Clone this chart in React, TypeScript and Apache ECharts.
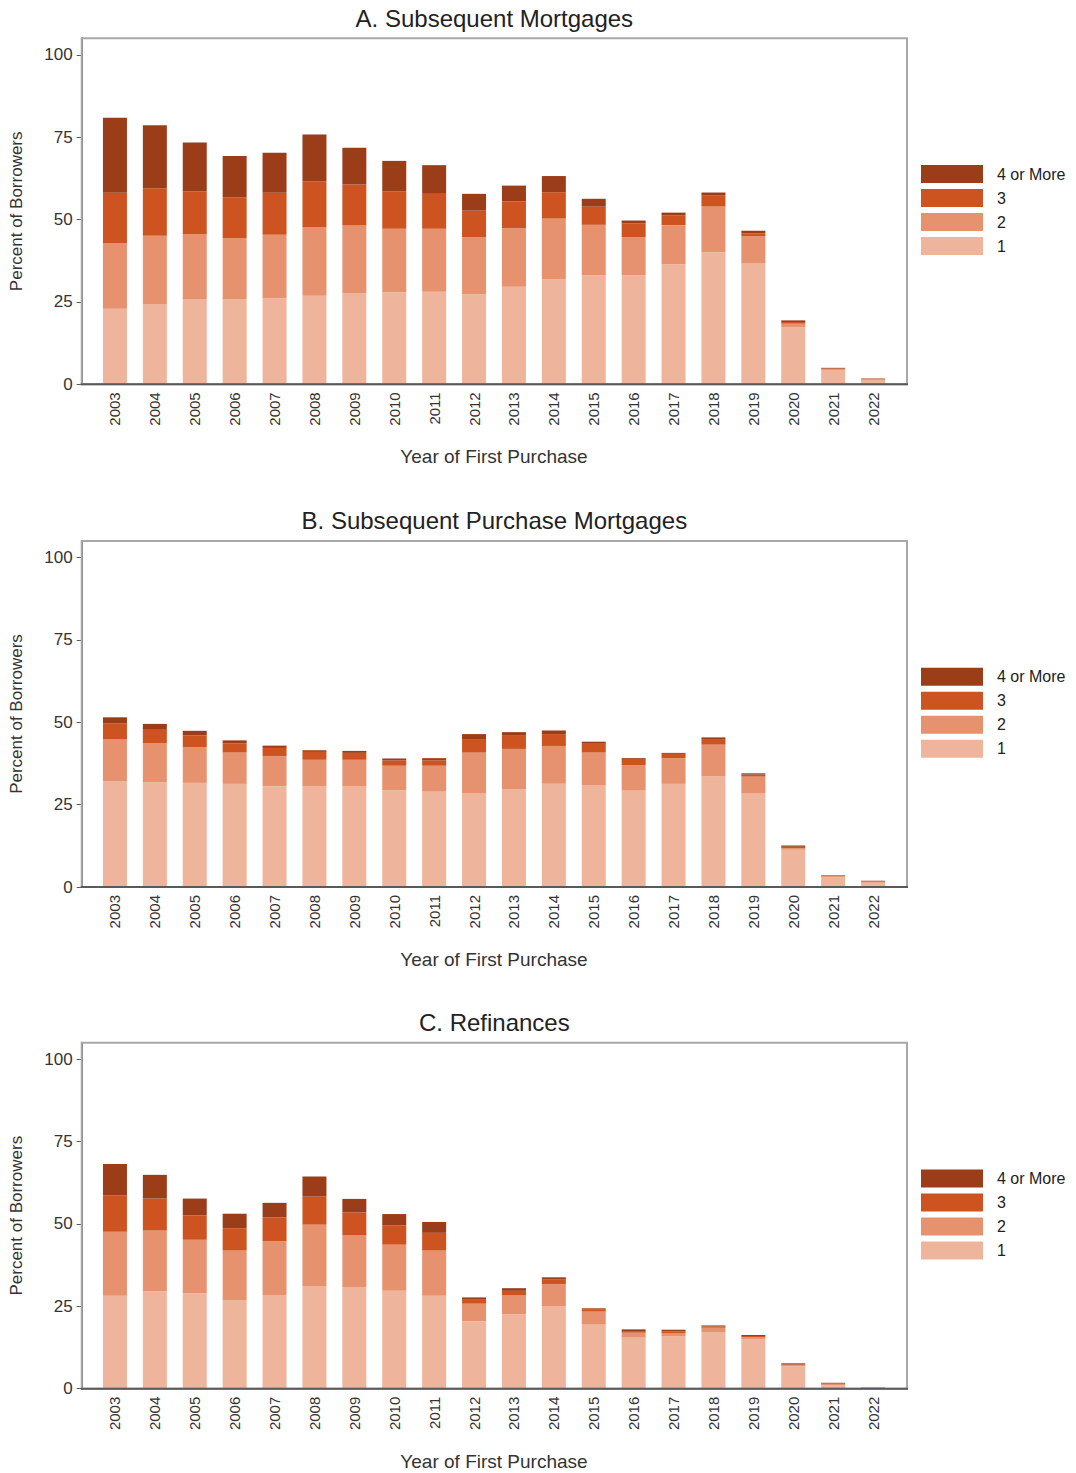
import React, { useEffect, useRef } from "react";
import * as echarts from "echarts";

const years = [
  "2003", "2004", "2005", "2006", "2007", "2008", "2009", "2010", "2011", "2012",
  "2013", "2014", "2015", "2016", "2017", "2018", "2019", "2020", "2021", "2022",
];
const seriesNames = ["1", "2", "3", "4 or More"];
const legendOrder = ["4 or More", "3", "2", "1"];
const segColors = ["#EEB59C", "#E6926E", "#CD5420", "#9C3D1A"];
const yTicks = [0, 25, 50, 75, 100];

const titles = ["A. Subsequent Mortgages", "B. Subsequent Purchase Mortgages", "C. Refinances"];

// A. Subsequent Mortgages
const subsequent1 = [22.9, 24.4, 25.9, 25.7, 26.1, 26.9, 27.7, 27.9, 28.1, 27.3, 29.6, 31.8, 33.1, 33.1, 36.4, 40.1, 36.7, 17.3, 4.2, 1.3];
const subsequent2 = [20.0, 20.7, 19.7, 18.7, 19.3, 20.8, 20.5, 19.3, 19.1, 17.4, 17.7, 18.5, 15.3, 11.6, 11.9, 13.9, 8.2, 1.1, 0.4, 0.25];
const subsequent3 = [15.2, 14.4, 12.9, 12.4, 12.7, 13.9, 12.4, 11.3, 10.6, 8.0, 8.2, 8.0, 5.5, 4.1, 2.9, 3.4, 0.9, 0.5, 0.2, 0.15];
const subsequent4 = [22.8, 19.1, 14.9, 12.5, 12.2, 14.2, 11.2, 9.3, 8.7, 5.1, 4.8, 4.9, 2.4, 0.9, 0.9, 0.8, 0.8, 0.5, 0.2, 0.1];

// B. Subsequent Purchase Mortgages
const purchase1 = [32.0, 31.8, 31.6, 31.3, 30.6, 30.5, 30.5, 29.3, 29.1, 28.5, 29.6, 31.3, 30.8, 29.4, 31.3, 33.6, 28.5, 11.3, 3.0, 1.3];
const purchase2 = [12.9, 11.9, 10.8, 9.5, 9.1, 8.1, 8.1, 7.5, 7.7, 12.3, 12.3, 11.5, 10.0, 7.5, 7.8, 9.6, 5.0, 0.5, 0.3, 0.3];
const purchase3 = [4.8, 4.0, 3.6, 2.8, 2.5, 2.4, 2.1, 1.6, 1.6, 4.1, 4.0, 3.6, 2.9, 1.7, 1.3, 1.7, 0.6, 0.4, 0.2, 0.2];
const purchase4 = [1.8, 1.8, 1.4, 0.9, 0.7, 0.5, 0.6, 0.6, 0.7, 1.5, 1.1, 1.1, 0.4, 0.5, 0.3, 0.5, 0.4, 0.4, 0.1, 0.1];

// C. Refinances
const refi1 = [28.2, 29.6, 29.0, 26.8, 28.4, 31.2, 30.9, 29.7, 28.2, 20.5, 22.6, 25.1, 19.6, 15.5, 15.9, 17.1, 15.1, 6.8, 1.0, 0.3];
const refi2 = [19.4, 18.4, 16.2, 15.1, 16.3, 18.6, 15.6, 14.0, 13.7, 5.3, 5.7, 6.6, 3.8, 1.5, 1.0, 1.4, 0.5, 0.3, 0.3, 0.1];
const refi3 = [11.1, 9.7, 7.4, 6.8, 7.3, 8.5, 7.0, 5.9, 5.4, 1.2, 1.4, 1.4, 0.6, 0.5, 0.5, 0.4, 0.4, 0.3, 0.3, 0.05];
const refi4 = [9.5, 7.2, 5.1, 4.4, 4.4, 6.1, 4.1, 3.4, 3.3, 0.7, 0.8, 0.7, 0.4, 0.5, 0.5, 0.3, 0.3, 0.3, 0.2, 0.05];

const panelData = [
  [subsequent1, subsequent2, subsequent3, subsequent4],
  [purchase1, purchase2, purchase3, purchase4],
  [refi1, refi2, refi3, refi4],
];

// layout
const FONT = "'Liberation Sans', Arial, Helvetica, sans-serif";
const PANEL_TOPS = [38.3, 541, 1042.7];
const PLOT_H = 346;
const FRAME_LEFT = 81.7;
const FRAME_RIGHT = 907;
const GRID_LEFT = 95;
const GRID_RIGHT = 893;

export default function App() {
  const ref = useRef<HTMLDivElement>(null);

  useEffect(() => {
    if (!ref.current) return;
    const chart = echarts.init(ref.current, null, { renderer: "svg" });

    const grids: any[] = [];
    const xAxes: any[] = [];
    const yAxes: any[] = [];
    const legends: any[] = [];
    const series: any[] = [];
    const graphics: any[] = [];

    PANEL_TOPS.forEach((top, p) => {
      grids.push({
        left: GRID_LEFT,
        top,
        width: GRID_RIGHT - GRID_LEFT,
        height: PLOT_H,
        outerBoundsMode: "none",
        containLabel: false,
      });
      xAxes.push({
        type: "category",
        gridIndex: p,
        data: years,
        boundaryGap: true,
        axisLine: { show: false },
        axisTick: { show: false },
        axisLabel: {
          rotate: 90,
          interval: 0,
          margin: 8,
          fontSize: 15,
          fontFamily: FONT,
          color: "#333",
        },
        name: "Year of First Purchase",
        nameLocation: "middle",
        nameGap: 63,
        nameMoveOverlap: false,
        nameTextStyle: { fontSize: 19, fontFamily: FONT, color: "#333" },
      });
      yAxes.push({
        type: "value",
        gridIndex: p,
        min: 0,
        max: 105,
        offset: GRID_LEFT - FRAME_LEFT,
        splitLine: { show: false },
        axisLine: { show: true, lineStyle: { color: "#5a5a5a", width: 2 } },
        axisTick: {
          show: true,
          length: 5,
          customValues: yTicks,
          lineStyle: { color: "#5a5a5a", width: 1 },
        },
        axisLabel: {
          customValues: yTicks,
          margin: 9,
          fontSize: 17,
          fontFamily: FONT,
          color: "#333",
        },
        name: "Percent of Borrowers",
        nameLocation: "middle",
        nameGap: 57,
        nameMoveOverlap: false,
        nameTextStyle: { fontSize: 17, fontFamily: FONT, color: "#333" },
      });
      legends.push({
        orient: "vertical",
        left: 921,
        top: top + 126.7,
        padding: 0,
        itemWidth: 62,
        itemHeight: 18,
        itemGap: 6,
        icon: "rect",
        selectedMode: false,
        data: legendOrder,
        textStyle: { fontSize: 16, fontFamily: FONT, color: "#222", padding: [0, 0, 0, 9] },
      });
      panelData[p].forEach((vals, i) => {
        series.push({
          type: "bar",
          name: seriesNames[i],
          xAxisIndex: p,
          yAxisIndex: p,
          stack: "panel" + p,
          barWidth: 24,
          data: vals,
          silent: true,
          itemStyle: { color: segColors[i] },
        });
      });
      graphics.push({
        type: "rect",
        silent: true,
        z: 10,
        shape: { x: FRAME_LEFT, y: top, width: FRAME_RIGHT - FRAME_LEFT, height: PLOT_H },
        style: { fill: "none", stroke: "#a8a8a8", lineWidth: 2 },
      });
      graphics.push({
        type: "line",
        silent: true,
        z: 11,
        shape: { x1: FRAME_LEFT - 1, y1: top + PLOT_H, x2: FRAME_RIGHT + 1, y2: top + PLOT_H },
        style: { stroke: "#5a5a5a", lineWidth: 2 },
      });
      graphics.push({
        type: "text",
        silent: true,
        x: (FRAME_LEFT + FRAME_RIGHT) / 2,
        y: top - 20.3,
        style: {
          text: titles[p],
          fontSize: 24,
          fontFamily: FONT,
          fill: "#222",
          textAlign: "center",
          textVerticalAlign: "middle",
        },
      });
    });

    chart.setOption({
      animation: false,
      backgroundColor: "#ffffff",
      grid: grids,
      xAxis: xAxes,
      yAxis: yAxes,
      legend: legends,
      series,
      graphic: { elements: graphics },
    });

    return () => chart.dispose();
  }, []);

  return (
    <div
      ref={ref}
      style={{ position: "absolute", left: 0, top: 0, width: 1076, height: 1473, background: "#fff" }}
    />
  );
}
